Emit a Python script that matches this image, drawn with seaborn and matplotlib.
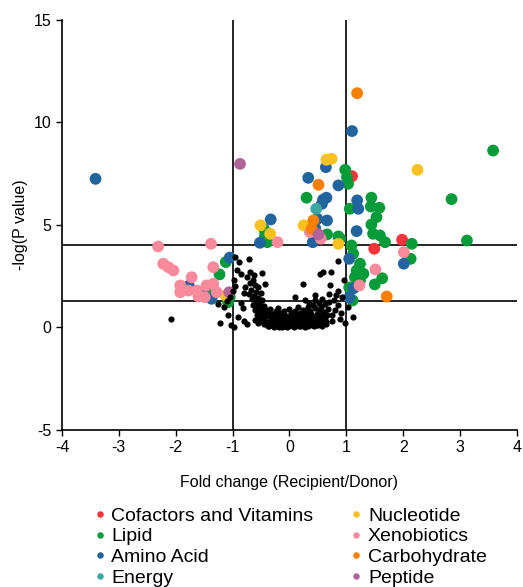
import pandas as pd
import matplotlib
matplotlib.use("Agg")
import matplotlib.pyplot as plt
import seaborn as sns

# Categorias y colores
categorias = ["Cofactors and Vitamins", "Lipid", "Amino Acid", "Energy",
              "Nucleotide", "Xenobiotics", "Carbohydrate", "Peptide"]
colores = ["#F8333C", "#079B3A", "#21649E", "#3AA8A0",
           "#FBC21E", "#F98A9B", "#F77F00", "#B0649A"]

# Puntos coloreados (fold change, -log P)
cofactores_x = [1.10, 1.98, 1.49]
cofactores_y = [7.38, 4.28, 3.84]

lipido_x = [-0.45, -0.43, -0.39, -1.12, -1.23, -1.38, -1.05, -1.08, 3.58, 0.98,
            1.01, 1.03, 0.30, 1.06, 2.85, 1.44, 1.43, 1.58, 1.53, 1.44,
            1.47, 1.59, 1.68, 3.12, 0.66, 0.86, 0.89, 2.15, 1.09, 1.12,
            2.13, 1.24, 1.18, 1.30, 1.15, 1.24, 1.63, 1.50, 1.08, 1.11, 1.05]
lipido_y = [4.81, 4.49, 4.16, 3.19, 2.59, 1.64, 1.48, 1.23, 8.63, 7.69,
            7.33, 7.01, 6.33, 5.79, 6.26, 6.33, 5.90, 5.84, 5.38, 5.02,
            4.57, 4.49, 4.16, 4.24, 4.54, 4.44, 4.33, 4.08, 4.00, 3.60,
            3.35, 3.11, 2.78, 2.62, 2.45, 2.29, 2.40, 2.10, 1.84, 1.32, 1.95]

aminoacido_x = [-3.41, -0.33, -0.52, -1.05, -1.77, -1.53, -1.37, 1.10, 0.64, 0.33,
                0.86, 0.59, 0.65, 0.57, 1.19, 1.21, 0.49, 0.66, 0.45, 0.41,
                1.18, 1.05, 2.01, 1.13, 1.05]
aminoacido_y = [7.25, 5.27, 4.13, 3.41, 2.03, 1.69, 1.40, 9.58, 7.82, 7.30,
                6.93, 6.23, 6.33, 6.03, 6.20, 5.79, 5.30, 5.22, 4.86, 4.16,
                4.70, 3.35, 3.11, 1.92, 1.46]

energia_x = [0.47]
energia_y = [5.79]

nucleotido_x = [-0.51, -0.34, -1.12, 2.25, 0.65, 0.74, 0.25, 0.86]
nucleotido_y = [4.98, 4.57, 1.56, 7.69, 8.18, 8.23, 4.98, 4.08]

xenobioticos_x = [-2.31, -1.38, -2.22, -2.13, -2.04, -1.72, -1.34, -1.92, -1.92, -1.78,
                  -1.63, -1.46, -1.34, -1.28, -1.49, -1.60, -0.21, 0.36, 0.55, 2.01,
                  1.51, 1.23]
xenobioticos_y = [3.95, 4.08, 3.11, 2.94, 2.78, 2.45, 2.94, 2.05, 1.72, 1.80,
                  1.80, 2.05, 2.13, 1.72, 1.48, 1.51, 4.16, 4.65, 4.33, 3.67,
                  2.83, 2.05]

carbohidrato_x = [1.19, 0.51, 0.42, 0.39, 1.71]
carbohidrato_y = [11.43, 6.96, 5.22, 4.81, 1.51]

peptido_x = [-0.87, -1.06, 0.51]
peptido_y = [7.98, 1.72, 4.54]

# Puntos no significativos (negros)
negro_x = [-0.96, -0.72, -0.88, -0.93, -0.69, -0.62, -0.75, -0.65, -0.70, -0.60,
           -0.78, -0.55, -0.68, -0.58, -0.72, -0.50, -0.62, -0.55, -0.66, -0.48,
           -0.58, -0.52, -0.64, -0.45, -0.56, -0.50, -0.60, -0.42, -0.53, -0.46,
           -0.38, -0.57, -0.48, -0.40, -0.52, -0.44, -0.35, -0.60, -0.50, -0.40,
           -0.30, -0.45, -0.35, -0.55,
           -1.22, -1.02, -2.09, -1.25, -1.15, -1.10, -1.00, -0.98, -1.05, -0.85,
           -0.82, -0.90, -0.80, -0.75, -1.08, -0.95, -0.85, -0.80, -0.97,
           -0.30, -0.25, -0.20, -0.15, -0.10, -0.05, 0.00, 0.05, 0.10, 0.15,
           0.20, 0.25, 0.30, 0.35, -0.28, -0.22, -0.18, -0.12, -0.08, -0.02,
           0.03, 0.08, 0.12, 0.18, 0.22, 0.28, 0.32, 0.38, -0.32, -0.26,
           -0.20, -0.14, -0.06, 0.00, 0.06, 0.14, 0.20, 0.26, 0.34, 0.40,
           -0.24, -0.16, -0.10, 0.02, 0.10, 0.18, 0.24, 0.30, 0.36, -0.35,
           -0.20, 0.00, 0.15, 0.32, 0.10, 0.24, -0.49, -0.43, -0.12, 0.02,
           0.12, -0.38, 0.40, 0.28, -0.05, 0.08, -0.18,
           -0.27, -0.21, -0.16, -0.09, -0.03, 0.04, 0.09, 0.16, 0.21, 0.27,
           0.33, -0.33, -0.23, -0.13, -0.07, 0.01, 0.07, 0.13, 0.19, 0.26,
           0.31, 0.37, -0.29, -0.11, 0.05, 0.17, 0.23, -0.36, -0.41, 0.43,
           0.45, 0.50, 0.55, 0.48, 0.58, 0.62, 0.52, 0.60, 0.66, 0.45,
           0.56, 0.68, 0.74, 0.48, 0.42, 0.52, 0.62, 0.70, 0.45, 0.58,
           0.45, 0.69, 0.78, 0.85, 0.80, 0.90, 1.03, 1.12, 0.92, 0.86,
           0.71, 0.54, 0.59, 0.73, 0.86, 0.95, 0.82, 0.75, 0.65, 0.88,
           0.98, 0.35, 0.28, 0.38, 0.46, 0.53, 0.64, 0.57, 0.41, 0.50]
negro_y = [3.43, 3.35, 3.20, 2.78, 2.70, 2.55, 2.45, 2.30, 2.15, 2.05,
           1.95, 1.95, 1.85, 1.75, 1.65, 1.70, 1.55, 1.45, 1.40, 1.35,
           1.25, 1.15, 1.10, 1.05, 0.98, 0.90, 0.85, 0.85, 0.75, 0.70,
           0.75, 0.62, 0.55, 0.60, 0.45, 0.40, 0.50, 0.35, 0.30, 0.25,
           0.35, 0.18, 0.15, 0.20,
           0.23, 0.10, 0.39, 1.15, 1.00, 1.30, 1.80, 2.30, 1.50, 1.20,
           0.95, 0.50, 0.30, 0.15, 0.60, 2.00, 2.60, 1.70, 0.00,
           0.10, 0.20, 0.05, 0.15, 0.08, 0.20, 0.05, 0.15, 0.10, 0.20,
           0.05, 0.15, 0.10, 0.25, 0.35, 0.45, 0.30, 0.40, 0.30, 0.38,
           0.28, 0.35, 0.42, 0.32, 0.40, 0.30, 0.45, 0.38, 0.55, 0.62,
           0.58, 0.50, 0.55, 0.48, 0.52, 0.60, 0.55, 0.62, 0.58, 0.52,
           0.78, 0.70, 0.82, 0.70, 0.78, 0.72, 0.85, 0.75, 0.80, 0.90,
           0.95, 0.92, 0.98, 1.00, 1.48, 2.13, 2.67, 2.13, 0.22, 0.12,
           0.25, 0.05, 0.12, 0.02, 0.00, 0.00, 0.00,
           0.02, 0.12, 0.25, 0.18, 0.10, 0.22, 0.06, 0.08, 0.28, 0.22,
           0.05, 0.20, 0.30, 0.02, 0.42, 0.18, 0.45, 0.35, 0.12, 0.40,
           0.32, 0.22, 0.65, 0.65, 0.62, 0.48, 0.68, 0.08, 0.15, 0.05,
           0.30, 0.45, 0.25, 0.65, 0.55, 0.42, 0.80, 0.75, 0.62, 0.95,
           1.00, 0.90, 0.59, 0.18, 1.10, 1.20, 1.15, 1.25, 1.35, 1.40,
           1.56, 1.64, 1.35, 1.10, 0.85, 0.70, 0.99, 0.50, 1.50, 1.80,
           2.05, 2.62, 2.70, 2.70, 3.23, 2.30, 1.60, 0.30, 0.15, 0.40,
           0.20, 1.20, 1.35, 0.68, 0.10, 0.35, 0.28, 0.05, 0.40, 0.12]

# Lineas de corte
cortes_x = [-1, 1]
cortes_y = [4, 1.3]

plt.rcParams["font.family"] = ["Liberation Sans", "DejaVu Sans"]
plt.rcParams["axes.unicode_minus"] = False

# Construir tabla larga
listas = [(cofactores_x, cofactores_y), (lipido_x, lipido_y),
          (aminoacido_x, aminoacido_y), (energia_x, energia_y),
          (nucleotido_x, nucleotido_y), (xenobioticos_x, xenobioticos_y),
          (carbohidrato_x, carbohidrato_y), (peptido_x, peptido_y)]
filas = []
for cat, (xs, ys) in zip(categorias, listas):
    for x, y in zip(xs, ys):
        filas.append({"fc": x, "logp": y, "clase": cat})
df = pd.DataFrame(filas)
df_negro = pd.DataFrame({"fc": negro_x, "logp": negro_y})

fig = plt.figure(figsize=(5.23, 5.87), dpi=100)
ax = fig.add_axes([0.1185, 0.2675, 0.87, 0.6985])

for v in cortes_x:
    ax.axvline(v, color="black", lw=1.2, zorder=1)
for h in cortes_y:
    ax.axhline(h, color="black", lw=1.2, zorder=1)

sns.scatterplot(data=df, x="fc", y="logp", hue="clase", hue_order=categorias,
                palette=colores, s=72, linewidth=0, alpha=1, ax=ax, zorder=3)
sns.scatterplot(data=df_negro, x="fc", y="logp", color="black", s=20,
                linewidth=0, ax=ax, zorder=4)

ax.set_xlim(-4, 4)
ax.set_ylim(-5, 15)
ax.set_xticks(range(-4, 5))
ax.set_yticks([-5, 0, 5, 10, 15])
ax.tick_params(labelsize=11.5, direction="out", length=4, width=1)
for lado in ["top", "right"]:
    ax.spines[lado].set_visible(False)
for lado in ["left", "bottom"]:
    ax.spines[lado].set_linewidth(1.2)
ax.set_xlabel("Fold change (Recipient/Donor)", fontsize=11.5, labelpad=14)
ax.set_ylabel("-log(P value)", fontsize=11.5, labelpad=4)

handles, labels = ax.get_legend_handles_labels()
ax.legend(handles[:8], labels[:8], ncol=2, loc="upper center",
          bbox_to_anchor=(0.5, -0.165), frameon=False, fontsize=14,
          markerscale=0.55, handlelength=0.8, handletextpad=0.2,
          labelspacing=0.15, columnspacing=1.8, borderpad=0)

fig.savefig("out.png", dpi=100)
